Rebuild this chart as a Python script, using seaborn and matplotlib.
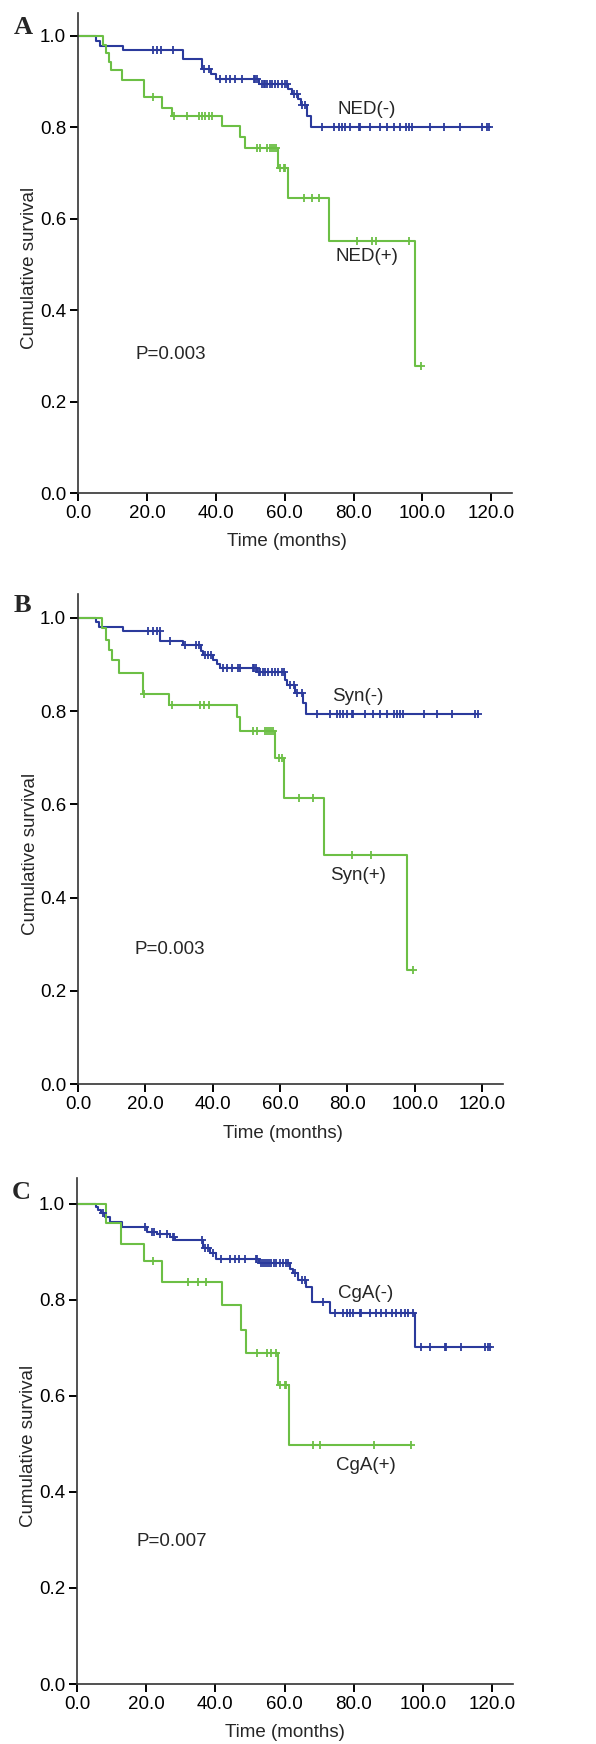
import numpy as np
import pandas as pd
import seaborn as sns
import matplotlib.pyplot as plt

# ---- Panel A: NED ----
ned_neg_event_t = [5.2, 6.4, 13.0, 30.6, 36.0, 38.6, 40.1, 52.4, 61.1, 62.1, 63.9, 64.8, 66.5, 67.7]
ned_neg_event_s = [0.989, 0.979, 0.969, 0.949, 0.927, 0.916, 0.905, 0.894, 0.883, 0.872, 0.861, 0.848, 0.825, 0.800]
ned_neg_cens = [21.7, 22.9, 24.0, 27.5, 36.7, 37.9, 41.1, 43.0, 44.0, 45.6, 47.6, 51.0, 51.5, 52.0,
                53.4, 53.9, 54.4, 54.8, 55.6, 56.3, 57.2, 58.2, 59.2, 60.1, 60.8, 62.6, 63.5, 65.0, 66.0,
                70.8, 74.2, 75.7, 76.6, 77.6, 78.9, 81.5, 82.0, 84.9, 87.8, 89.7, 91.7, 93.6, 95.1, 96.0,
                97.0, 102.3, 106.2, 111.0, 117.3, 118.8, 119.3]

ned_pos_event_t = [7.2, 8.1, 9.1, 9.6, 12.7, 19.2, 24.3, 27.2, 41.8, 46.9, 48.5, 58.0, 60.9, 73.0, 97.7]
ned_pos_event_s = [0.981, 0.963, 0.943, 0.925, 0.903, 0.866, 0.843, 0.825, 0.803, 0.778, 0.754, 0.710, 0.646, 0.551, 0.278]
ned_pos_cens = [21.9, 28.0, 31.6, 35.0, 35.9, 36.9, 37.9, 38.9, 51.9, 52.9, 54.8, 55.6, 56.3, 57.0, 57.6,
                58.7, 59.7, 60.2, 65.5, 67.9, 69.9, 81.0, 85.4, 86.6, 96.0, 99.6]

# ---- Panel B: Syn ----
syn_neg_event_t = [5.3, 6.3, 13.3, 24.4, 31.1, 36.5, 37.0, 40.2, 41.2, 42.2, 53.1, 61.5, 62.2, 64.5, 66.9, 67.7]
syn_neg_event_s = [0.990, 0.980, 0.971, 0.951, 0.942, 0.928, 0.921, 0.910, 0.900, 0.892, 0.883, 0.867, 0.856, 0.839, 0.817, 0.794]
syn_neg_cens = [20.9, 22.2, 23.4, 24.2, 27.3, 31.8, 35.0, 36.0, 37.7, 38.7, 39.4, 43.0, 44.2, 45.6, 47.6,
                48.1, 51.9, 52.3, 52.9, 53.6, 54.1, 54.9, 55.5, 56.5, 57.5, 58.5, 59.5, 60.5, 61.2, 63.0,
                64.0, 65.0, 66.4, 70.9, 74.9, 76.8, 77.8, 78.8, 79.8, 81.3, 81.8, 85.2, 87.7, 89.7, 91.7,
                93.7, 94.7, 95.6, 96.6, 102.6, 106.5, 111.0, 117.9, 118.9]

syn_pos_event_t = [7.0, 8.3, 9.3, 10.0, 12.3, 19.4, 27.1, 47.1, 48.1, 58.5, 61.2, 72.9, 97.8]
syn_pos_event_s = [0.978, 0.953, 0.931, 0.909, 0.881, 0.837, 0.813, 0.788, 0.758, 0.700, 0.613, 0.491, 0.245]
syn_pos_cens = [19.6, 27.8, 36.2, 37.4, 39.0, 52.1, 53.1, 55.6, 56.1, 56.6, 57.3, 57.8, 59.8, 60.5,
                65.7, 69.9, 81.3, 87.0, 99.6]

# ---- Panel C: CgA ----
cga_neg_event_t = [5.5, 6.2, 6.8, 8.1, 9.5, 12.9, 20.1, 23.0, 26.9, 28.3, 36.3, 38.4, 40.3, 52.6,
                   61.5, 62.5, 63.9, 66.3, 67.8, 73.0, 97.8]
cga_neg_event_s = [0.994, 0.987, 0.980, 0.972, 0.962, 0.952, 0.942, 0.937, 0.930, 0.924, 0.907, 0.897,
                   0.884, 0.876, 0.865, 0.855, 0.841, 0.827, 0.796, 0.773, 0.702]
cga_neg_cens = [7.5, 19.6, 21.6, 22.2, 24.0, 25.9, 27.6, 28.0, 36.0, 37.0, 37.9, 39.2, 41.5, 44.2, 45.6,
                46.9, 48.5, 51.7, 52.1, 53.3, 53.8, 54.3, 54.8, 55.5, 56.2, 56.9, 57.6, 58.6, 59.6, 60.5,
                61.1, 62.9, 64.9, 65.8, 71.1, 74.5, 76.9, 77.9, 78.8, 79.8, 81.7, 82.2, 84.6, 86.5, 88.0,
                89.4, 90.9, 92.3, 93.7, 94.7, 95.7, 97.1, 99.5, 101.9, 106.3, 106.7, 111.1, 117.8, 118.8,
                119.3]

cga_pos_event_t = [8.4, 12.6, 19.3, 24.6, 42.0, 47.3, 48.7, 58.1, 61.3]
cga_pos_event_s = [0.960, 0.917, 0.881, 0.838, 0.789, 0.738, 0.690, 0.622, 0.497]
cga_pos_cens = [22.0, 32.0, 35.0, 37.4, 51.9, 54.8, 56.2, 57.5, 58.6, 60.0, 60.5, 68.2, 70.2, 85.8, 96.6]

panels = [
    ("A", [("NED(-)", ned_neg_event_t, ned_neg_event_s, ned_neg_cens),
           ("NED(+)", ned_pos_event_t, ned_pos_event_s, ned_pos_cens)],
     [(83.7, 0.839), (84.0, 0.518)], "P=0.003", (16.6, 0.304)),
    ("B", [("Syn(-)", syn_neg_event_t, syn_neg_event_s, syn_neg_cens),
           ("Syn(+)", syn_pos_event_t, syn_pos_event_s, syn_pos_cens)],
     [(83.2, 0.831), (83.2, 0.447)], "P=0.003", (16.9, 0.288)),
    ("C", [("CgA(-)", cga_neg_event_t, cga_neg_event_s, cga_neg_cens),
           ("CgA(+)", cga_pos_event_t, cga_pos_event_s, cga_pos_cens)],
     [(83.4, 0.813), (83.4, 0.454)], "P=0.007", (17.2, 0.297)),
]

# axes rectangles (fig fraction), limits and label positions
rects = [[0.1309, 0.7173, 0.7282, 0.2752],
         [0.1309, 0.3784, 0.7131, 0.2810],
         [0.1292, 0.0344, 0.7315, 0.2900]]
xmaxs = [126.0, 126.2, 126.0]
ymaxs = [1.050, 1.051, 1.053]
xlab_pos = [(0.482, -0.084), (0.481, -0.083), (0.476, -0.080)]
letter_pos = [(14, 28), (14, 606), (12, 1192)]

colors = ["#2b3a9c", "#6cbf45"]
fs = 13.5

sns.set_style("ticks")
plt.rcParams['font.family'] = ['Liberation Sans', 'DejaVu Sans']

fig = plt.figure(figsize=(5.96, 17.44), dpi=100)

for i, (letter, curves, lab_xy, ptext, pxy) in enumerate(panels):
    ax = fig.add_axes(rects[i])
    for (name, et, es, cens), col in zip(curves, colors):
        et = np.array(et)
        es = np.array(es)
        end_t = max(cens) if len(cens) else et[-1]
        t = np.concatenate([[0.0], et, [max(end_t, et[-1])]])
        s = np.concatenate([[1.0], es, [es[-1]]])
        df = pd.DataFrame({"time": t, "surv": s})
        sns.lineplot(data=df, x="time", y="surv", drawstyle="steps-post", estimator=None,
                     sort=False, color=col, lw=1.5, ax=ax)
        # censor marks sit on the step function
        c = np.array(cens)
        idx = np.searchsorted(t, c, side="right") - 1
        cdf = pd.DataFrame({"time": c, "surv": s[idx]})
        sns.scatterplot(data=cdf, x="time", y="surv", marker="+", s=36, color=col,
                        linewidth=1.3, ax=ax, zorder=3)
    for (name, *_), (lx, ly) in zip(curves, lab_xy):
        ax.text(lx, ly, name, ha="center", va="center", fontsize=fs)
    ax.text(pxy[0], pxy[1], ptext, ha="left", va="center", fontsize=fs)

    ax.set_xlim(0, xmaxs[i])
    ax.set_ylim(0, ymaxs[i])
    ax.set_xticks(np.arange(0, 121, 20))
    ax.set_xticklabels([f"{v:.1f}" for v in np.arange(0, 121, 20)])
    ax.set_yticks(np.arange(0, 1.01, 0.2))
    ax.set_yticklabels([f"{v:.1f}" for v in np.arange(0, 1.01, 0.2)])
    ax.tick_params(length=6, width=1.4, pad=2.5, labelsize=fs, colors="black")
    for sp in ["left", "bottom"]:
        ax.spines[sp].set_linewidth(1.2)
        ax.spines[sp].set_color("#333333")
    sns.despine(ax=ax)
    ax.set_xlabel("Time (months)", fontsize=fs)
    ax.set_ylabel("Cumulative survival", fontsize=fs)
    ax.xaxis.set_label_coords(*xlab_pos[i])
    ax.yaxis.set_label_coords(-0.092, 0.47)

    lx, ly = letter_pos[i]
    fig.text(lx / 596, 1 - ly / 1744, letter, ha="left", va="center", fontsize=19,
             fontweight="bold", family=["Liberation Serif", "DejaVu Serif"])

fig.savefig("out.png", dpi=100)
